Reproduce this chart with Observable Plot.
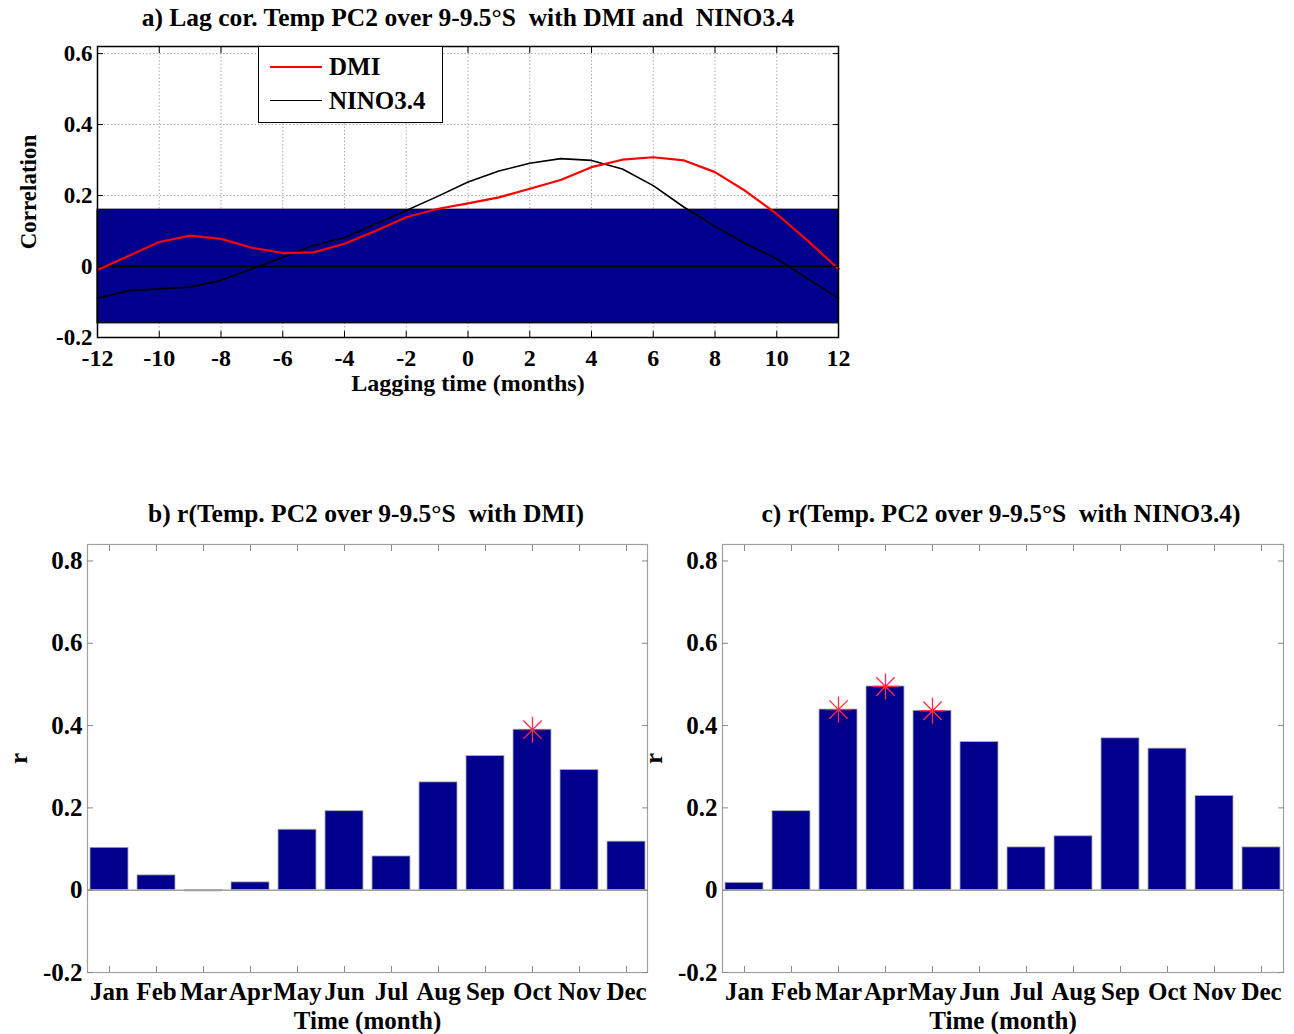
<!DOCTYPE html>
<html><head><meta charset="utf-8">
<script src="https://cdn.jsdelivr.net/npm/d3@7"></script>
<script src="https://cdn.jsdelivr.net/npm/@observablehq/plot@0.6"></script>
<style>
html,body{margin:0;padding:0;background:#fff;}
body{width:1294px;height:1034px;position:relative;overflow:hidden;font-family:"Liberation Serif","Times New Roman",serif;}
.panel{position:absolute;}
.title{position:absolute;font-weight:bold;font-size:25.5px;white-space:pre;text-align:center;width:900px;line-height:1;}
.legend{position:absolute;background:#fff;border:1.5px solid #000;font-weight:bold;font-size:25px;box-sizing:border-box;}
.legend .row{position:absolute;left:0;display:flex;align-items:center;line-height:1;}
.legend .sw{display:inline-block;width:52px;height:0;margin-left:11px;margin-right:7px;}
</style></head><body>
<script>
// ---- Panel a: lag correlation ----
const lags = [-12,-11,-10,-9,-8,-7,-6,-5,-4,-3,-2,-1,0,1,2,3,4,5,6,7,8,9,10,11,12];
const dmiLag = [-0.01,0.03,0.069,0.087,0.078,0.053,0.038,0.04,0.064,0.10,0.139,0.162,0.178,0.195,0.219,0.244,0.28,0.301,0.308,0.299,0.266,0.212,0.148,0.073,-0.007];
const ninoLag = [-0.089,-0.068,-0.063,-0.058,-0.039,-0.007,0.026,0.059,0.081,0.12,0.158,0.197,0.238,0.269,0.291,0.304,0.299,0.275,0.228,0.167,0.113,0.064,0.022,-0.035,-0.089];
const sigLevel = [0.16];
const lagTicks = [-12,-10,-8,-6,-4,-2,0,2,4,6,8,10,12];
const lagYTicks = [-0.2,0,0.2,0.4,0.6];
const seriesNames = ["DMI","NINO3.4"];
const seriesColors = ["red","black"];

// ---- Panels b, c: monthly correlation ----
const months = ["Jan","Feb","Mar","Apr","May","Jun","Jul","Aug","Sep","Oct","Nov","Dec"];
const rDMI = [0.103,0.036,-0.003,0.019,0.147,0.192,0.082,0.262,0.326,0.39,0.292,0.118];
const rNINO = [0.018,0.192,0.439,0.495,0.436,0.36,0.104,0.131,0.369,0.344,0.229,0.104];
const sigDMI = ["Oct"];
const sigNINO = ["Mar","Apr","May"];
const barYTicks = [-0.2,0,0.2,0.4,0.6,0.8];

const titles = {
  a: "a) Lag cor. Temp PC2 over 9-9.5\u00B0S  with DMI and  NINO3.4",
  b: "b) r(Temp. PC2 over 9-9.5\u00B0S  with DMI)",
  c: "c) r(Temp. PC2 over 9-9.5\u00B0S  with NINO3.4)"
};

const fmtY = d => d === 0 ? "0" : d.toFixed(1);
const fmtX = d => String(d);
const NAVY = "#00008C";

function place(el, left, top) {
  el.classList.add("panel");
  el.style.left = left + "px";
  el.style.top = top + "px";
  document.body.appendChild(el);
}
function addTitle(text, cx, cy) {
  const d = document.createElement("div");
  d.className = "title";
  d.textContent = text;
  d.style.left = (cx - 450) + "px";
  d.style.top = (cy - 13) + "px";
  document.body.appendChild(d);
}

// Panel a
const lagData = [];
lags.forEach((l, i) => {
  lagData.push({lag: l, r: dmiLag[i], s: "DMI"});
  lagData.push({lag: l, r: ninoLag[i], s: "NINO3.4"});
});
const band = sigLevel.map(v => ({lo: -v, hi: v, x1: lags[0], x2: lags[lags.length - 1]}));

const chartA = Plot.plot({
  width: 900, height: 368,
  marginLeft: 97, marginRight: 62, marginTop: 16, marginBottom: 61,
  x: {domain: [lags[0], lags[lags.length - 1]]},
  y: {domain: [-0.2, 0.62]},
  color: {domain: seriesNames, range: seriesColors},
  style: {fontFamily: "Liberation Serif, serif", fontWeight: "bold", fontSize: "24px", color: "black", background: "transparent", overflow: "visible"},
  marks: [
    Plot.gridX(lagTicks, {stroke: "#aaa", strokeOpacity: 1, strokeDasharray: "1.5,2"}),
    Plot.gridY(lagYTicks, {stroke: "#aaa", strokeOpacity: 1, strokeDasharray: "1.5,2"}),
    Plot.rect(band, {x1: "x1", x2: "x2", y1: "lo", y2: "hi", fill: NAVY, stroke: "black", strokeWidth: 1.2}),
    Plot.ruleY([0], {stroke: "black", strokeWidth: 1.5}),
    Plot.line(lagData.filter(d => d.s === "NINO3.4"), {x: "lag", y: "r", stroke: "s", strokeWidth: 1.6}),
    Plot.line(lagData.filter(d => d.s === "DMI"), {x: "lag", y: "r", stroke: "s", strokeWidth: 2.2}),
    Plot.frame({stroke: "black", strokeWidth: 1.5}),
    Plot.axisX(lagTicks, {tickSize: -6, tickPadding: 17, tickFormat: fmtX, label: "Lagging time (months)", labelAnchor: "center", labelOffset: 53, labelArrow: "none"}),
    Plot.axisX(lagTicks, {anchor: "top", tickSize: -6, tickFormat: () => "", label: null}),
    Plot.axisY(lagYTicks, {tickSize: -6, tickPadding: 11, fontSize: 23, tickFormat: fmtY, label: "Correlation", labelAnchor: "center", labelOffset: 78, labelArrow: "none"}),
    Plot.axisY(lagYTicks, {anchor: "right", tickSize: -6, tickFormat: () => "", label: null})
  ]
});
place(chartA, 0, 30);
addTitle(titles.a, 468, 18);

// legend for panel a
const leg = document.createElement("div");
leg.className = "legend";
leg.style.left = "258px"; leg.style.top = "46px"; leg.style.width = "185px"; leg.style.height = "77px";
seriesNames.forEach((n, i) => {
  const row = document.createElement("div");
  row.className = "row";
  row.style.top = (7 + i * 34) + "px";
  const sw = document.createElement("span");
  sw.className = "sw";
  sw.style.borderTop = (i === 0 ? 2 : 1.6) + "px solid " + seriesColors[i];
  const t = document.createElement("span");
  t.textContent = n;
  row.appendChild(sw); row.appendChild(t);
  leg.appendChild(row);
});
document.body.appendChild(leg);

// star (MATLAB '*') symbol
const star = {
  draw(ctx, size) {
    const r = Math.sqrt(size / Math.PI);
    const q = r * Math.SQRT1_2;
    ctx.moveTo(0, -r); ctx.lineTo(0, r);
    ctx.moveTo(-r, 0); ctx.lineTo(r, 0);
    ctx.moveTo(-q, -q); ctx.lineTo(q, q);
    ctx.moveTo(-q, q); ctx.lineTo(q, -q);
  }
};

function barChart(values, sig, marginLeft, marginRight, width) {
  const data = months.map((m, i) => ({month: m, r: values[i]}));
  const sigData = data.filter(d => sig.includes(d.month));
  return Plot.plot({
    width, height: 500,
    marginLeft, marginRight, marginTop: 14, marginBottom: 58,
    x: {domain: months, paddingInner: 0.2, paddingOuter: 0},
    y: {domain: [-0.2, 0.84]},
    style: {fontFamily: "Liberation Serif, serif", fontWeight: "bold", fontSize: "25px", color: "black", background: "transparent", overflow: "visible"},
    marks: [
      Plot.barY(data, {x: "month", y: "r", fill: NAVY, stroke: "#b0b0b0", strokeWidth: 0.8}),
      Plot.ruleY([0], {stroke: "#a0a0a0", strokeWidth: 1.5}),
      Plot.dot(sigData, {x: "month", y: "r", symbol: star, r: 13, stroke: "#ff2a4a", strokeWidth: 1.3}),
      Plot.frame({stroke: "#a0a0a0", strokeWidth: 1.2}),
      Plot.axisX({tickSize: -6, tickPadding: 16, stroke: "#888", fill: "black", label: "Time (month)", labelAnchor: "center", labelOffset: 56, labelArrow: "none"}),
      Plot.axisX({anchor: "top", tickSize: -6, stroke: "#888", tickFormat: () => "", label: null}),
      Plot.axisY(barYTicks, {tickSize: -6, tickPadding: 11, stroke: "#888", fill: "black", tickFormat: fmtY, label: "r", labelAnchor: "center", labelOffset: 78, labelArrow: "none"}),
      Plot.axisY(barYTicks, {anchor: "right", tickSize: -6, stroke: "#888", tickFormat: () => "", label: null})
    ]
  });
}

const chartB = barChart(rDMI, sigDMI, 87, 13, 660);
place(chartB, 0, 530);
addTitle(titles.b, 366, 514);

const chartC = barChart(rNINO, sigNINO, 82, 11, 654);
place(chartC, 640, 530);
addTitle(titles.c, 1001, 514);
</script>
</body></html>
